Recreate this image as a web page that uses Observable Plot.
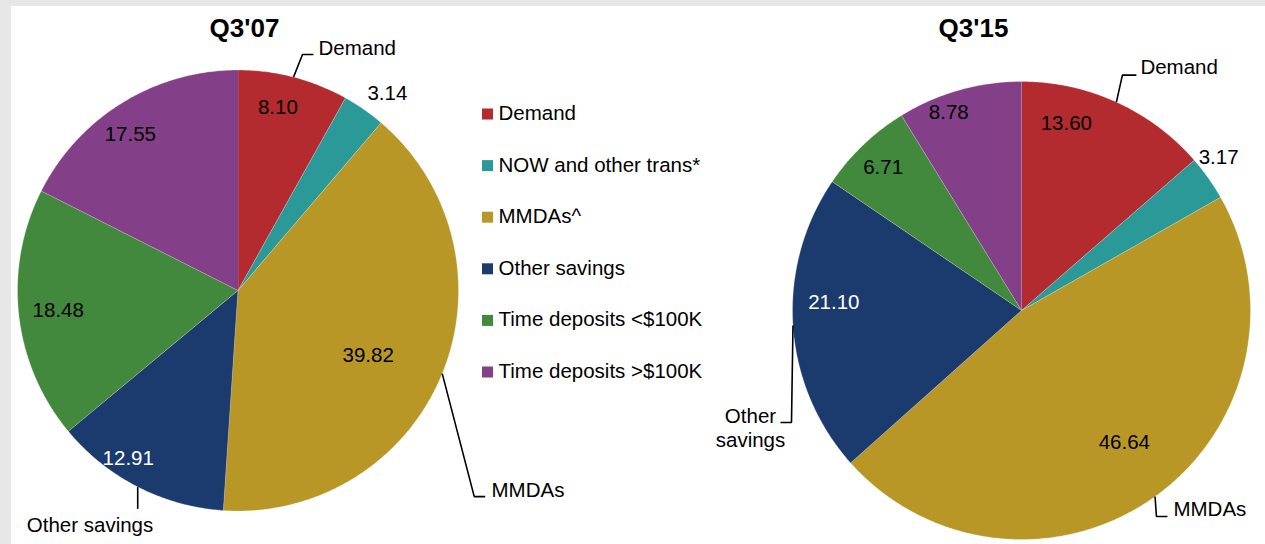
<!DOCTYPE html>
<html><head><meta charset="utf-8">
<script src="https://cdn.jsdelivr.net/npm/d3@7"></script>
<script src="https://cdn.jsdelivr.net/npm/@observablehq/plot@0.6"></script>
<style>
html,body{margin:0;padding:0;background:#e6e7e6;}
#chart{position:absolute;left:11px;top:6px;width:1254px;height:538px;background:#fff;}
svg{display:block;}
</style></head><body><div id="chart"></div>
<script>
// ---- data ----
const categories = ["Demand", "NOW and other trans*", "MMDAs^", "Other savings", "Time deposits <$100K", "Time deposits >$100K"];
const values07 = [8.10, 3.14, 39.82, 12.91, 18.48, 17.55];
const values15 = [13.60, 3.17, 46.64, 21.10, 6.71, 8.78];
const titles = ["Q3'07", "Q3'15"];
const colors = ["#b42b2f", "#2a9998", "#b89727", "#1b3a6e", "#42893d", "#843f89"];
const darkSlices = ["Other savings"];

// ---- layout ----
const FONT = "'Liberation Sans', Arial, Helvetica, sans-serif";
const FS = 20.5;
const pies = [
  { title: titles[0], values: values07, cx: 237.5, cy: 290, r: 220.5, titleX: 244, titleY: 28,
    labelPos: [[0.85, -2.3], [1.12, 2.4], [0.66, 4.4], [0.91, 6.1], [0.82, 0.2], [0.86, -3]],
    callouts: [
      { slice: 0, text: "Demand", path: [[9, -22.6], [20, -22.6]], dx: 25, dy: -28.6, anchor: "start" },
      { slice: 2, text: "MMDAs", path: [[32, 123], [43, 123]], dx: 49.3, dy: 117, anchor: "start" },
      { slice: 3, text: "Other savings", path: [[0, 22]], dx: -47.7, dy: 37, anchor: "middle" }
    ] },
  { title: titles[1], values: values15, cx: 1021, cy: 310, r: 229, titleX: 973, titleY: 28,
    labelPos: [[0.84, -11], [1.09, -2.5], [0.73, -2.3], [0.82, 6.1], [0.87, -0.3], [0.92, -4.4]],
    callouts: [
      { slice: 0, text: "Demand", path: [[6, -27], [20, -27]], dx: 24, dy: -35, anchor: "start" },
      { slice: 3, text: "Other\nsavings", path: [[-1.5, 97], [-12.5, 97]], dx: -42.5, dy: 102, anchor: "middle" },
      { slice: 2, text: "MMDAs", path: [[1.4, 20], [12.4, 20]], dx: 18.4, dy: 13, anchor: "start" }
    ] }
];
const legendX = 482, legendY0 = 113, legendStep = 51.6;

// ---- geometry from data ----
const rad = Math.PI / 180;
const slicePts = [], labels = [], leaders = [], calloutTexts = [], titleData = [];
pies.forEach((p, pi) => {
  const total = d3.sum(p.values);
  let acc = 0;
  const mids = [];
  p.values.forEach((v, i) => {
    const a0 = acc / total * 360, a1 = (acc + v) / total * 360;
    acc += v;
    const key = pi + "-" + i;
    slicePts.push({ key, cat: categories[i], px: p.cx, py: p.cy });
    const n = Math.max(4, Math.ceil((a1 - a0) * 2));
    for (let k = 0; k <= n; k++) {
      const a = (a0 + (a1 - a0) * k / n) * rad;
      slicePts.push({ key, cat: categories[i], px: p.cx + p.r * Math.sin(a), py: p.cy - p.r * Math.cos(a) });
    }
    const mid = (a0 + a1) / 2;
    mids.push(mid);
    const [f, off] = p.labelPos[i];
    const la = (mid + off) * rad;
    labels.push({ text: v.toFixed(2), dark: darkSlices.includes(categories[i]),
      px: p.cx + f * p.r * Math.sin(la), py: p.cy - f * p.r * Math.cos(la) });
  });
  p.callouts.forEach((c, ci) => {
    const a = mids[c.slice] * rad;
    const sx = p.cx + p.r * Math.sin(a), sy = p.cy - p.r * Math.cos(a);
    const key = pi + "-c" + ci;
    leaders.push({ key, px: sx, py: sy });
    c.path.forEach(([ox, oy]) => leaders.push({ key, px: sx + ox, py: sy + oy }));
    calloutTexts.push({ text: c.text, anchor: c.anchor, px: sx + c.dx, py: sy + c.dy });
  });
  titleData.push({ text: p.title, px: p.titleX, py: p.titleY });
});
const legend = categories.map((c, i) => ({ cat: c, py: legendY0 + i * legendStep }));

const chart = Plot.plot({
  width: 1254, height: 538, margin: 0,
  x: { domain: [11, 1265], range: [0, 1254], axis: null },
  y: { domain: [6, 544], range: [0, 538], axis: null },
  color: { type: "ordinal", domain: categories, range: colors },
  style: { fontFamily: FONT, background: "white", overflow: "visible" },
  marks: [
    Plot.line(slicePts, { x: "px", y: "py", z: "key", fill: "cat", stroke: "#ffffff", strokeWidth: 0.5, strokeOpacity: 0.5, curve: "linear" }),
    Plot.text(labels.filter(d => !d.dark), { x: "px", y: "py", text: "text", fill: "#000", fontSize: FS }),
    Plot.text(labels.filter(d => d.dark), { x: "px", y: "py", text: "text", fill: "#fff", fontSize: FS }),
    Plot.line(leaders, { x: "px", y: "py", z: "key", stroke: "#000", strokeWidth: 1.6, strokeLinecap: "butt", strokeLinejoin: "miter", curve: "linear" }),
    Plot.text(calloutTexts.filter(d => d.anchor === "start"), { x: "px", y: "py", text: "text", textAnchor: "start", fill: "#000", fontSize: FS }),
    Plot.text(calloutTexts.filter(d => d.anchor === "middle"), { x: "px", y: "py", text: "text", textAnchor: "middle", fill: "#000", fontSize: FS, lineHeight: 1.17 }),
    Plot.text(titleData, { x: "px", y: "py", text: "text", fill: "#000", fontSize: 26, fontWeight: "bold" }),
    Plot.rect(legend, { x1: () => legendX, x2: () => legendX + 11, y1: d => d.py - 4.5, y2: d => d.py + 6.5, fill: "cat" }),
    Plot.text(legend, { x: () => legendX + 16, y: "py", text: "cat", textAnchor: "start", fill: "#000", fontSize: FS })
  ]
});
document.getElementById("chart").appendChild(chart);
</script></body></html>
